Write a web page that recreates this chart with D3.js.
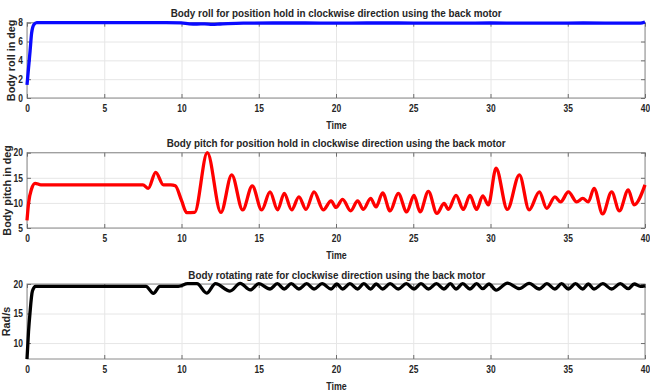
<!DOCTYPE html>
<html>
<head>
<meta charset="utf-8">
<script src="https://cdn.jsdelivr.net/npm/d3@7"></script>
<style>
  body { margin: 0; background: #fff; }
  text { font-family: "Liberation Sans", Arial, sans-serif; font-weight: bold; fill: #262626; }
</style>
</head>
<body>
<div id="graph"></div>
<script>
// x ticks shared by all three panels
var timeTicks = [0, 5, 10, 15, 20, 25, 30, 35, 40]

// body roll (deg)
var rollT = [0, 0.1, 0.2, 0.3, 0.45, 0.63, 1, 3, 5, 7, 8, 9, 10, 10.5, 11, 11.5, 12, 12.5, 13, 14, 16, 18, 20, 22, 24, 26, 28, 30, 32, 34, 36, 38, 39.7, 40]
var rollV = [1.4, 3.2, 5.0, 6.9, 7.8, 8.0, 8.0, 8.0, 8.0, 8.0, 8.0, 8.0, 7.98, 7.88, 7.86, 7.88, 7.82, 7.86, 7.9, 7.95, 7.97, 7.97, 7.96, 7.97, 7.97, 7.96, 7.96, 7.97, 7.96, 7.96, 7.97, 7.96, 7.95, 8.08]
var rollTicks = [0, 2, 4, 6, 8]

// body pitch (deg)
var pitchT = [0, 0.1, 0.3, 0.52, 0.9, 2, 4, 6, 7.5, 7.85, 8.33, 8.83, 9.3, 9.6, 10.0, 10.34, 10.85, 11.67, 12.55, 13.25, 13.96, 14.58, 15.19, 15.73, 16.22, 16.65, 17.13, 17.6, 18.06, 18.58, 19.18, 19.68, 20.0, 20.43, 20.95, 21.4, 21.77, 22.24, 22.59, 23.02, 23.5, 24.03, 24.58, 25.05, 25.44, 25.98, 26.53, 27.0, 27.27, 27.77, 28.24, 28.67, 29.1, 29.5, 29.86, 30.36, 31.09, 31.87, 32.5, 33.16, 33.64, 34.17, 34.54, 35.04, 35.58, 35.97, 36.33, 36.7, 37.26, 37.84, 38.34, 38.92, 39.29, 40]
var pitchV = [6.5, 9.9, 12.8, 13.9, 13.6, 13.6, 13.6, 13.6, 13.6, 12.9, 16.1, 13.6, 13.6, 13.4, 10.5, 8.05, 8.1, 20, 8.1, 15.6, 8.6, 13.4, 8.6, 12.2, 8.6, 11.9, 8.6, 11.2, 8.7, 12.2, 8.6, 10.4, 9.1, 10.7, 8.4, 10.4, 8.7, 10.9, 9.2, 12.0, 8.4, 11.9, 8.2, 11.5, 8.2, 12.3, 7.9, 9.9, 8.7, 11.5, 8.7, 11.5, 8.7, 11.4, 9.6, 16.9, 8.7, 15.6, 8.6, 12.2, 8.9, 11.2, 10.2, 12.2, 10.2, 10.9, 10.2, 12.9, 7.8, 12.2, 8.4, 12.6, 9.6, 13.6]
var pitchTicks = [5, 10, 15, 20]

// body rotating rate (rad/s)
var rateT = [0, 0.1, 0.19, 0.35, 0.55, 1, 3, 5, 7.7, 8.18, 8.6, 9.8, 10.4, 11.0, 11.63, 12.2, 13.14, 13.8, 14.45, 15.0, 15.73, 16.2, 16.65, 17.1, 17.6, 18.1, 18.58, 19.1, 19.68, 20.05, 20.43, 20.9, 21.4, 21.8, 22.24, 22.6, 23.02, 23.5, 24.03, 24.55, 25.05, 25.5, 25.98, 26.5, 26.99, 27.4, 27.77, 28.2, 28.67, 29.1, 29.5, 29.9, 30.36, 31.1, 31.87, 32.5, 33.16, 33.65, 34.17, 34.6, 35.04, 35.5, 35.97, 36.33, 36.7, 37.27, 37.84, 38.4, 38.92, 39.3, 39.7, 40]
var rateV = [7.3, 12.0, 15.0, 18.8, 19.6, 19.6, 19.6, 19.6, 19.6, 18.4, 19.6, 19.6, 20.05, 20.05, 18.45, 20.05, 18.8, 20.1, 19.0, 20.05, 19.15, 20.05, 19.15, 20.05, 19.15, 20.05, 19.15, 20.05, 19.15, 20.0, 19.15, 20.05, 19.15, 20.05, 19.15, 20.0, 19.15, 20.05, 19.15, 20.05, 19.15, 20.05, 19.15, 20.05, 19.15, 20.05, 19.15, 20.05, 19.15, 20.05, 19.2, 20.0, 18.95, 20.15, 19.2, 20.1, 19.15, 20.05, 19.15, 20.05, 19.15, 20.05, 19.15, 20.0, 19.15, 20.05, 19.15, 20.05, 19.2, 20.0, 19.6, 19.7]
var rateTicks = [10, 15, 20]

var titles = [
  "Body roll for position hold in clockwise direction using the back motor",
  "Body pitch for position hold in clockwise direction using the back motor",
  "Body rotating rate for clockwise direction using the back motor"
]
var yLabels = ["Body roll in deg", "Body pitch in deg", "Rad/s"]

var width = 650, height = 391
var svg = d3.select("#graph").append("svg").attr("width", width).attr("height", height)

var x = d3.scaleLinear().domain([0, 40]).range([27, 645])
var squeeze = "scale(0.82,1)"

function zip(t, v) { return t.map(function(d, i) { return {t: d, v: v[i]} }) }

var panels = [
  {top: 22.7, bottom: 98, domain: [0, 8], ticks: rollTicks, data: zip(rollT, rollV), color: "#0a0aff",
   title: titles[0], tx: 170.7, tw: 331, ylabel: yLabels[0], lx: 11},
  {top: 152.7, bottom: 228, domain: [5, 20], ticks: pitchTicks, data: zip(pitchT, pitchV), color: "#ff0000",
   title: titles[1], tx: 166.7, tw: 339, ylabel: yLabels[1], lx: 7},
  {top: 284, bottom: 359, domain: [7.3, 20], ticks: rateTicks, data: zip(rateT, rateV), color: "#000000",
   title: titles[2], tx: 188.3, tw: 297, ylabel: yLabels[2], lx: 6.5}
]

panels.forEach(drawPanel)

function drawPanel(p) {
  var y = d3.scaleLinear().domain(p.domain).range([p.bottom, p.top])
  var g = svg.append("g")
  var h = p.bottom - p.top

  // grid
  g.append("g").attr("transform", "translate(0," + p.bottom + ")")
    .call(d3.axisBottom(x).tickValues(timeTicks).tickSize(-h).tickFormat(""))
    .call(function(s) { s.select(".domain").remove(); s.selectAll("line").attr("stroke", "#e6e6e6") })
  g.append("g").attr("transform", "translate(" + x.range()[0] + ",0)")
    .call(d3.axisLeft(y).tickValues(p.ticks).tickSize(-(x.range()[1] - x.range()[0])).tickFormat(""))
    .call(function(s) { s.select(".domain").remove(); s.selectAll("line").attr("stroke", "#e6e6e6") })

  // box
  g.append("rect").attr("x", x.range()[0]).attr("y", p.top)
    .attr("width", x.range()[1] - x.range()[0]).attr("height", h)
    .attr("fill", "none").attr("stroke", "#8a8a8a").attr("stroke-width", 1)

  // axes with inward ticks
  var bx = g.append("g").attr("transform", "translate(0," + p.bottom + ")")
    .call(d3.axisBottom(x).tickValues(timeTicks).tickSizeInner(-4).tickSizeOuter(0).tickPadding(7))
  var tx = g.append("g").attr("transform", "translate(0," + p.top + ")")
    .call(d3.axisTop(x).tickValues(timeTicks).tickSizeInner(-4).tickSizeOuter(0).tickFormat(""))
  var ly = g.append("g").attr("transform", "translate(" + x.range()[0] + ",0)")
    .call(d3.axisLeft(y).tickValues(p.ticks).tickSizeInner(-4).tickSizeOuter(0).tickPadding(5))
  var ry = g.append("g").attr("transform", "translate(" + x.range()[1] + ",0)")
    .call(d3.axisRight(y).tickValues(p.ticks).tickSizeInner(-4).tickSizeOuter(0).tickFormat(""))
  ;[bx, tx, ly, ry].forEach(function(a) {
    a.select(".domain").remove()
    a.selectAll("line").attr("stroke", "#6e6e6e")
    a.selectAll("text").attr("font-size", 10.3).attr("font-family", null)
      .attr("fill", "#262626").attr("transform", squeeze)
  })

  // series line
  var line = d3.line().curve(d3.curveMonotoneX)
    .x(function(d) { return x(d.t) }).y(function(d) { return y(d.v) })
  g.append("path").datum(p.data).attr("d", line)
    .attr("fill", "none").attr("stroke", p.color).attr("stroke-width", 3.3)
    .attr("stroke-linejoin", "round")

  // title
  g.append("text").attr("x", p.tx).attr("y", p.top - 5.5)
    .attr("font-size", 10.8).attr("textLength", p.tw).attr("lengthAdjust", "spacingAndGlyphs")
    .attr("fill", "#000").text(p.title)

  // x label
  g.append("text").attr("transform", "translate(336.5," + (p.bottom + 31) + ") " + squeeze)
    .attr("text-anchor", "middle").attr("font-size", 10.8).text("Time")

  // y label
  g.append("text").attr("transform", "translate(" + p.lx + "," + ((p.top + p.bottom) / 2) + ") rotate(-90)")
    .attr("text-anchor", "middle").attr("dy", "0.36em").attr("font-size", 10.8).text(p.ylabel)
}
</script>
</body>
</html>
